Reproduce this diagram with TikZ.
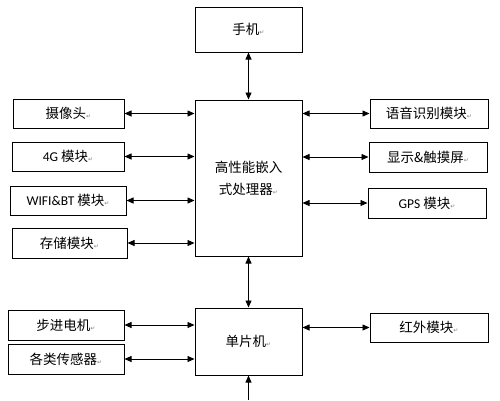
\documentclass[tikz,border=0pt]{standalone}
\usepackage{fontspec}
\setmainfont{Noto Sans CJK SC}
\newfontfamily\lat{Carlito}
\newfontfamily\sym{DejaVu Sans}
\usetikzlibrary{arrows.meta,positioning,calc}
\newcommand{\pmark}{{\sym\fontsize{6}{6}\selectfont\color{gray}↵}}

\begin{document}
\begin{tikzpicture}[x=1pt, y=-1pt,
    box/.style={draw, line width=1pt, inner sep=0pt, font=\fontsize{13.5}{22}\selectfont},
    link/.style={line width=0.8pt, {Triangle[length=7pt,width=6pt]}-{Triangle[length=7pt,width=6pt]}},
    uplink/.style={line width=0.8pt, -{Triangle[length=7pt,width=6pt]}}]
  \useasboundingbox (0,0) rectangle (500,400);
  % middle column
  \node[box, minimum width=107pt, minimum height=45pt] (phone) at (248.5,29.5) {手机\pmark};
  \node[box, minimum width=107pt, minimum height=156pt, align=center] (cpu) at (248.5,178) {高性能嵌入\\式处理器\pmark};
  \node[box, minimum width=107pt, minimum height=67pt] (mcu) at (248.5,341.5) {单片机\pmark};
  \coordinate (bot) at (248.5,400);
  % left column
  \node[box, minimum width=111pt, minimum height=29pt] (cam) at (68.5,113.5) {摄像头\pmark};
  \node[box, minimum width=112pt, minimum height=29pt] (fourg) at (68,156.5) {{\lat 4G} 模块\pmark};
  \node[box, minimum width=116pt, minimum height=29pt] (wifi) at (68,200.5) {{\lat WIFI\&BT} 模块\pmark};
  \node[box, minimum width=115pt, minimum height=30pt] (store) at (69.5,243) {存储模块\pmark};
  \node[box, minimum width=116pt, minimum height=30pt] (motor) at (66,325) {步进电机\pmark};
  \node[box, minimum width=116pt, minimum height=30pt] (sensor) at (66,359) {各类传感器\pmark};
  % right column
  \node[box, minimum width=118pt, minimum height=29pt] (voice) at (429,113.5) {语音识别模块\pmark};
  \node[box, minimum width=118pt, minimum height=30pt] (disp) at (428,157) {显示\&触摸屏\pmark};
  \node[box, minimum width=118pt, minimum height=30pt] (gps) at (427,203) {{\lat GPS} 模块\pmark};
  \node[box, minimum width=118pt, minimum height=29pt] (ir) at (429,327.5) {红外模块\pmark};
  % connectors
  \draw[link] (phone) -- (cpu);
  \draw[link] (cpu) -- (mcu);
  \draw[uplink] (bot) -- (mcu);
  \foreach \m in {cam,fourg,wifi,store}
    \draw[link] (\m.east) -- (\m.east -| cpu.west);
  \foreach \m in {voice,disp,gps}
    \draw[link] (\m.west -| cpu.east) -- (\m.west);
  \foreach \m in {motor,sensor}
    \draw[link] (\m.east) -- (\m.east -| mcu.west);
  \draw[link] (ir.west -| mcu.east) -- (ir.west);
\end{tikzpicture}
\end{document}
